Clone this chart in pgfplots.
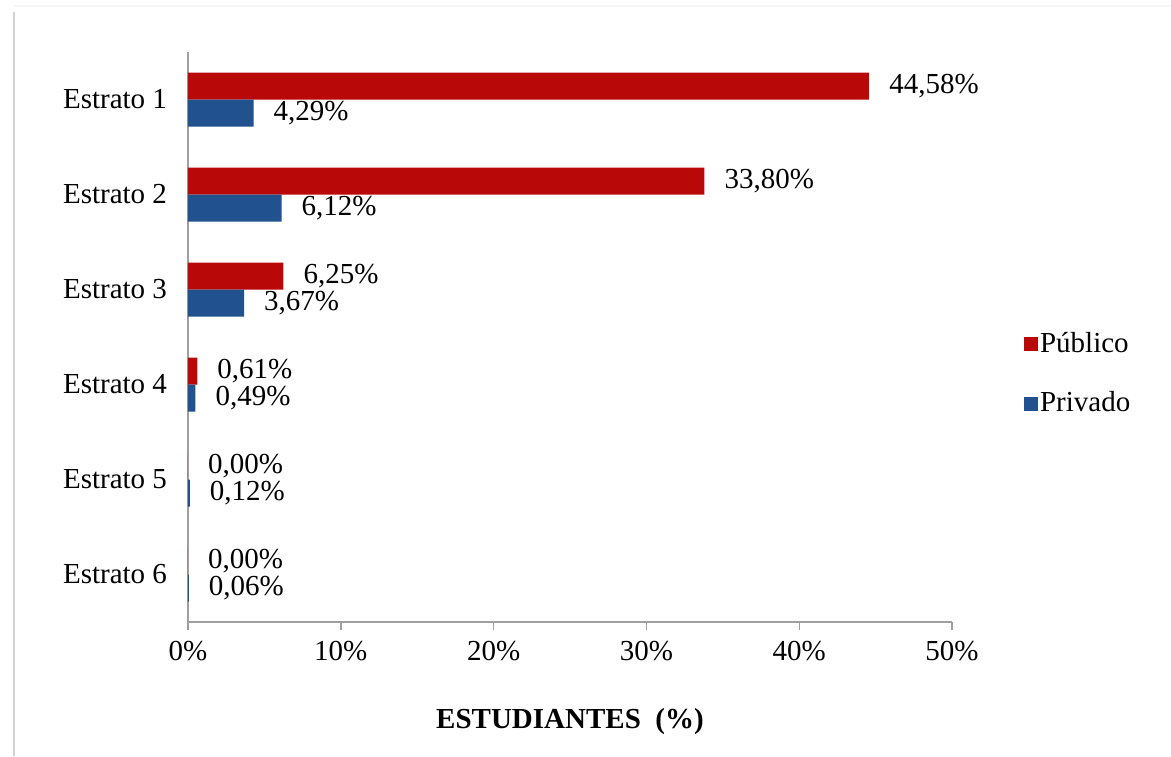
\documentclass[border=0pt]{standalone}
\usepackage{fontspec}
\setmainfont{Liberation Serif}
\usepackage{pgfplots}
\pgfplotsset{compat=1.18}

\definecolor{redfill}{HTML}{B80808}
\definecolor{bluefill}{HTML}{22518F}

\begin{document}
\fontsize{14.5}{17}\selectfont
\begin{tikzpicture}
\useasboundingbox (-94pt,-67pt) rectangle (491.5pt,311pt);
% chart frame
\draw[gray!35, line width=1.2pt] (-87pt,-67pt) -- (-87pt,305pt);
\draw[gray!8, line width=0.6pt] (-87pt,308pt) -- (491.5pt,308pt);
\begin{axis}[
    at={(0pt,0pt)}, anchor=south west,
    scale only axis,
    width=382pt, height=285pt,
    xmin=0, xmax=50,
    ymin=0.5, ymax=6.5,
    xbar, bar width=13.5pt,
    axis x line*=bottom,
    axis y line*=left,
    axis line style={draw=gray!75, line width=1pt},
    xtick={0,10,20,30,40,50},
    xticklabels={0\%,10\%,20\%,30\%,40\%,50\%},
    x tick style={draw=gray!75, line width=0.7pt},
    tick align=outside,
    major tick length=4pt,
    ytick={1,2,3,4,5,6},
    yticklabels={Estrato 6,Estrato 5,Estrato 4,Estrato 3,Estrato 2,Estrato 1},
    ytick style={draw=none},
    yticklabel style={xshift=-1.5pt},
    xticklabel style={yshift=-0.5pt},
    xlabel={\bfseries ESTUDIANTES\ \ (\%)},
    xlabel style={at={(rel axis cs:0.5,0)}, anchor=center, yshift=-50pt},
    /pgf/number format/assume math mode=true,
    point meta=x,
    nodes near coords={\pgfmathprintnumber[fixed,fixed zerofill,precision=2,use comma]{\pgfplotspointmeta}\%},
    nodes near coords style={anchor=west, xshift=5pt, text=black},
    legend style={at={(1.086,0.435)}, anchor=west, draw=none, fill=none,
        row sep=15.5pt, nodes={inner sep=1pt}},
    legend cell align=left,
    legend image code/.code={\fill[#1] (0pt,-3.5pt) rectangle (7pt,3.5pt);},
]
\addplot[bar shift=6.75pt, draw=none, fill=redfill]
    coordinates {(44.58,6) (33.80,5) (6.25,4) (0.61,3) (0,2) (0,1)};
\addlegendentry{Público}
\addplot[bar shift=-6.75pt, draw=none, fill=bluefill]
    coordinates {(4.29,6) (6.12,5) (3.67,4) (0.49,3) (0.12,2) (0.06,1)};
\addlegendentry{Privado}
\end{axis}
\end{tikzpicture}
\end{document}
